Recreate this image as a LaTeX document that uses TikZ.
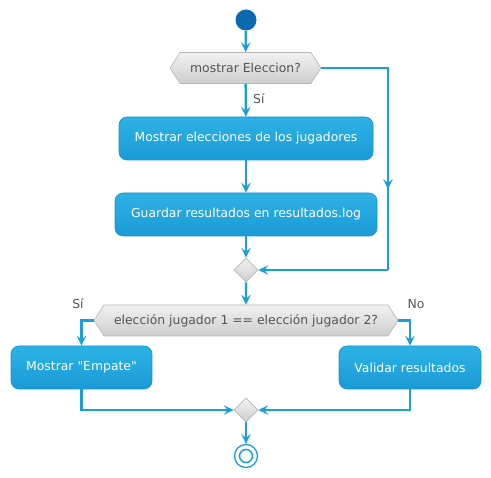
\documentclass[tikz,border=0pt]{standalone}
\usepackage{fontspec}
\setmainfont{DejaVu Sans}[Ligatures=TeXOff]
\usetikzlibrary{arrows.meta,shapes.geometric,shapes.symbols,decorations.markings,calc}
\definecolor{flowc}{HTML}{1A9FDB}
\definecolor{startc}{HTML}{0A69B0}
\definecolor{boxtop}{HTML}{2DB2E5}
\definecolor{boxbot}{HTML}{1A9AD6}
\definecolor{boxline}{HTML}{1890CC}
\definecolor{dectop}{HTML}{F2F2F2}
\definecolor{decbot}{HTML}{CDCDCD}
\definecolor{decline}{HTML}{B5B5B5}
\definecolor{txtgrey}{HTML}{555555}
\begin{document}
\begin{tikzpicture}[x=1pt,y=-1pt,
  font=\fontsize{12.4}{14}\selectfont,
  tip/.style={-{Stealth[length=10pt,width=9.5pt,inset=4pt]}},
  flow/.style={draw=flowc,line width=2.3pt,tip},
  plain/.style={draw=flowc,line width=2.3pt},
  actbox/.style={rectangle,rounded corners=8pt,draw=boxline,line width=0.6pt,
    top color=boxtop,bottom color=boxbot,text=white,inner sep=0pt},
  decbox/.style={signal,signal to=west and east,signal pointer angle=114,draw=decline,line width=0.6pt,
    top color=dectop,bottom color=decbot,text=txtgrey,inner sep=0pt},
  merge/.style={diamond,draw=decline,line width=0.6pt,top color=dectop,bottom color=decbot,
    minimum width=24pt,minimum height=24pt,inner sep=0pt},
  lbl/.style={text=txtgrey}]
\useasboundingbox (0,0) rectangle (491,478);
\node[circle,fill=startc,minimum size=21pt,inner sep=0pt] (start) at (246,20) {};
\node[decbox,minimum width=151pt,minimum height=31pt] (d1) at (245.5,68) {mostrar Eleccion?};
\node[actbox,minimum width=254pt,minimum height=43pt] (b1) at (246,138.5) {Mostrar elecciones de los jugadores};
\node[actbox,minimum width=262pt,minimum height=43pt] (b2) at (246,214.5) {Guardar resultados en resultados.log};
\node[merge] (m1) at (246,270) {};
\node[decbox,minimum width=304pt,minimum height=31pt] (d2) at (246,320.5) {elección jugador 1 == elección jugador 2?};
\node[actbox,minimum width=141pt,minimum height=43pt] (b3) at (81.5,367.5) {Mostrar "Empate"};
\node[actbox,minimum width=142pt,minimum height=43pt] (b4) at (410,367.5) {Validar resultados};
\node[merge] (m2) at (246,410) {};
\node[circle,draw=flowc,line width=1.3pt,minimum size=23pt,inner sep=0pt] (end) at (246,456) {};
\node[circle,draw=flowc,line width=1.5pt,minimum size=13pt,inner sep=0pt] (endin) at (246,456) {};
\coordinate (r1) at (388,68);
\coordinate (r2) at (388,270);
\draw[flow] (start) -- (d1);
\draw[flow] (d1) -- node[lbl,right,pos=0.45,xshift=3pt]{Sí} (b1);
\draw[flow] (b1) -- (b2);
\draw[flow] (b2) -- (m1);
\draw[plain] (d1.east) -- (r1) -- (r2);
\draw[flow] ($(r1)!0.5!(r2)$) -- ($(r1)!0.6!(r2)$);
\draw[flow] (r2) -- (m1.east);
\draw[flow] (m1) -- (d2);
\draw[flow] (d2.west) -| (b3.north);
\draw[flow] (d2.east) -| (b4.north);
\node[lbl] (si2) at (78,304) {Sí};
\node[lbl] (no2) at (416,304) {No};
\draw[flow] (b3.south) |- (m2.west);
\draw[flow] (b4.south) |- (m2.east);
\draw[flow] (m2) -- (end);
\end{tikzpicture}
\end{document}
